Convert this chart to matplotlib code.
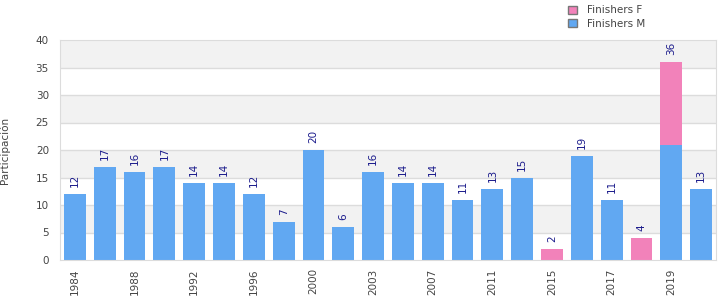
import numpy as np
import matplotlib.pyplot as plt

# Data
years = ['1984', '1986', '1988', '1990', '1992', '1994', '1996', '1998', '2000', '2002', '2003',
         '2005', '2007', '2009', '2011', '2013', '2015', '2016', '2017', '2018', '2019', '2020']
finishers_m = [12, 17, 16, 17, 14, 14, 12, 7, 20, 6, 16, 14, 14, 11, 13, 15, 0, 19, 11, 0, 21, 13]
finishers_f = [0, 0, 0, 0, 0, 0, 0, 0, 0, 0, 0, 0, 0, 0, 0, 0, 2, 0, 0, 4, 15, 0]

blue = '#61a8f2'
pink = '#f282ba'
grid_col = '#dcdcdc'
text_col = '#444444'

fig = plt.figure(figsize=(7.26, 3.0), dpi=100)
ax = fig.add_axes([60 / 726, 40 / 300, 656 / 726, 220 / 300])

x = np.arange(len(years))
m = np.array(finishers_m)
f = np.array(finishers_f)

# alternating bands
for lo in range(5, 40, 10):
    ax.axhspan(lo, lo + 5, color='#f2f2f2', zorder=0, lw=0)
for y in range(5, 40, 5):
    ax.axhline(y, color=grid_col, lw=1, zorder=1)

ax.bar(x, m, width=0.73, color=blue, zorder=2, label='Finishers M')
ax.bar(x, f, width=0.73, bottom=m, color=pink, zorder=2, label='Finishers F')

total = m + f
for xi, t in zip(x, total):
    ax.text(xi, t + 1.2, str(t), rotation=90, ha='center', va='bottom',
            fontsize=7.5, color='#1c1c8c')

ax.set_xlim(-0.5, len(years) - 0.5)
ax.set_ylim(0, 40)
ax.set_yticks(range(0, 41, 5))
ax.set_xticks(x[::2])
ax.set_xticklabels(years[::2], rotation=90)
ax.tick_params(axis='both', length=0, labelsize=7.5, colors=text_col)
ax.tick_params(axis='y', pad=8)
ax.tick_params(axis='x', pad=6)
for s in ax.spines.values():
    s.set_color(grid_col)

fig.text(5 / 726, 150 / 300, 'Participación', rotation=90, ha='center', va='center',
         fontsize=7.5, color=text_col)

# legend (F first, M second)
h, l = ax.get_legend_handles_labels()
leg = fig.legend(h[::-1], l[::-1], loc='upper left', bbox_to_anchor=(563 / 726, 1.0),
                 frameon=False, fontsize=7.5, handlelength=0.8, handleheight=0.8,
                 labelspacing=0.35, handletextpad=1.0, borderaxespad=0.1)
for p in leg.get_patches():
    p.set_edgecolor('#777777')
    p.set_linewidth(1)
for t in leg.get_texts():
    t.set_color(text_col)

fig.savefig('out.png', dpi=100)
